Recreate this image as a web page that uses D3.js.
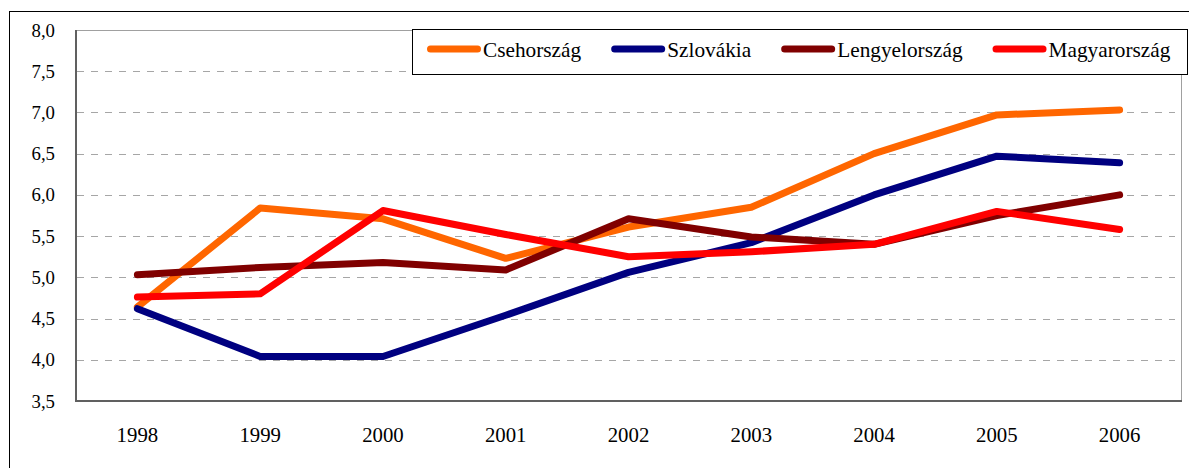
<!DOCTYPE html>
<html>
<head>
<meta charset="utf-8">
<script src="https://cdn.jsdelivr.net/npm/d3@7/dist/d3.min.js"></script>
<style>
  html, body { margin: 0; padding: 0; background: #fff; }
  svg { display: block; }
</style>
</head>
<body>
<svg id="chart" width="1189" height="468"></svg>
<script>
const years = ["1998","1999","2000","2001","2002","2003","2004","2005","2006"];
const seriesNames = ["Csehország","Szlovákia","Lengyelország","Magyarország"];
const seriesColors = ["#ff6600","#000080","#800000","#ff0000"];
const cseh =   [4.64, 5.84, 5.71, 5.23, 5.61, 5.85, 6.50, 6.97, 7.03];
const szlo =   [4.62, 4.04, 4.04, 4.54, 5.06, 5.42, 6.00, 6.47, 6.39];
const lengy =  [5.03, 5.12, 5.18, 5.09, 5.71, 5.49, 5.40, 5.75, 6.00];
const magyar = [4.76, 4.80, 5.81, 5.52, 5.25, 5.31, 5.40, 5.80, 5.58];
const yTicks = [3.5, 4.0, 4.5, 5.0, 5.5, 6.0, 6.5, 7.0, 7.5, 8.0];
const yTickLabels = ["3,5","4,0","4,5","5,0","5,5","6,0","6,5","7,0","7,5","8,0"];

const seriesValues = [cseh, szlo, lengy, magyar];
const FONT = "'Liberation Serif', 'Times New Roman', serif";

const svg = d3.select("#chart");
const L = 76, R = 1181, T = 30, B = 401;
const SX = 1.04, SXL = 1.065, FS = 20, FSY = 18.8;

const x = d3.scalePoint().domain(years).range([L, R]).padding(0.5);
const y = d3.scaleLinear().domain([3.5, 8.0]).range([B, T]);

// outer frame
svg.append("rect").attr("x", 9.5).attr("y", 11.5).attr("width", 1200).attr("height", 500)
  .attr("fill", "none").attr("stroke", "#000").attr("stroke-width", 1);

// gridlines
svg.append("g").selectAll("line").data(yTicks.filter(d => d > 3.5 && d < 8.0)).join("line")
  .attr("x1", L + 1).attr("x2", R - 6)
  .attr("y1", d => Math.round(y(d)) + 0.5).attr("y2", d => Math.round(y(d)) + 0.5)
  .attr("stroke", "#a6a6a6").attr("stroke-width", 1).attr("stroke-dasharray", "7,7");

// plot border
svg.append("line").attr("x1", L).attr("x2", R).attr("y1", T + 0.5).attr("y2", T + 0.5)
  .attr("stroke", "#a0a0a0").attr("stroke-width", 1);
svg.append("line").attr("x1", R + 0.5).attr("x2", R + 0.5).attr("y1", T).attr("y2", B)
  .attr("stroke", "#a0a0a0").attr("stroke-width", 1);
svg.append("line").attr("x1", L).attr("x2", L).attr("y1", T).attr("y2", B + 1)
  .attr("stroke", "#606060").attr("stroke-width", 2);
svg.append("line").attr("x1", L - 1).attr("x2", R + 1).attr("y1", B).attr("y2", B)
  .attr("stroke", "#606060").attr("stroke-width", 2);

// y tick labels
svg.append("g").selectAll("text").data(yTicks).join("text")
  .attr("x", L - 21).attr("y", d => y(d))
  .attr("text-anchor", "end").attr("dy", "0.35em")
  .attr("font-family", FONT).attr("font-size", FSY)
  .text((d, i) => yTickLabels[i]);

// x tick labels
svg.append("g").selectAll("text").data(years).join("text")
  .attr("transform", d => `translate(${x(d)},${B + 41}) scale(${SX},1)`)
  .attr("text-anchor", "middle")
  .attr("font-family", FONT).attr("font-size", FS)
  .text(d => d);

// lines
const line = d3.line().x((d, i) => x(years[i])).y(d => y(d));
svg.append("g").selectAll("path").data(seriesValues).join("path")
  .attr("d", d => line(d))
  .attr("fill", "none")
  .attr("stroke", (d, i) => seriesColors[i])
  .attr("stroke-width", 7)
  .attr("stroke-linejoin", "round")
  .attr("stroke-linecap", "round");

// legend
const lg = svg.append("g");
const LX = 412, LY = 29, LW = 775, LH = 45;
lg.append("rect").attr("x", LX + 0.5).attr("y", LY + 0.5).attr("width", LW).attr("height", LH)
  .attr("fill", "#fff").attr("stroke", "#000").attr("stroke-width", 1);
let cx = LX + 15;
const ly = LY + 20;
seriesNames.forEach((name, i) => {
  lg.append("line").attr("x1", cx + 3.5).attr("x2", cx + 54 - 3.5).attr("y1", ly).attr("y2", ly)
    .attr("stroke", seriesColors[i]).attr("stroke-width", 7).attr("stroke-linecap", "round");
  const t = lg.append("text")
    .attr("transform", `translate(${cx + 56},${ly}) scale(${SXL},1)`)
    .attr("dy", "0.38em").attr("font-family", FONT).attr("font-size", FS).text(name);
  const w = t.node().getComputedTextLength() * SXL;
  cx = cx + 56 + w + 30;
});
</script>
</body>
</html>
